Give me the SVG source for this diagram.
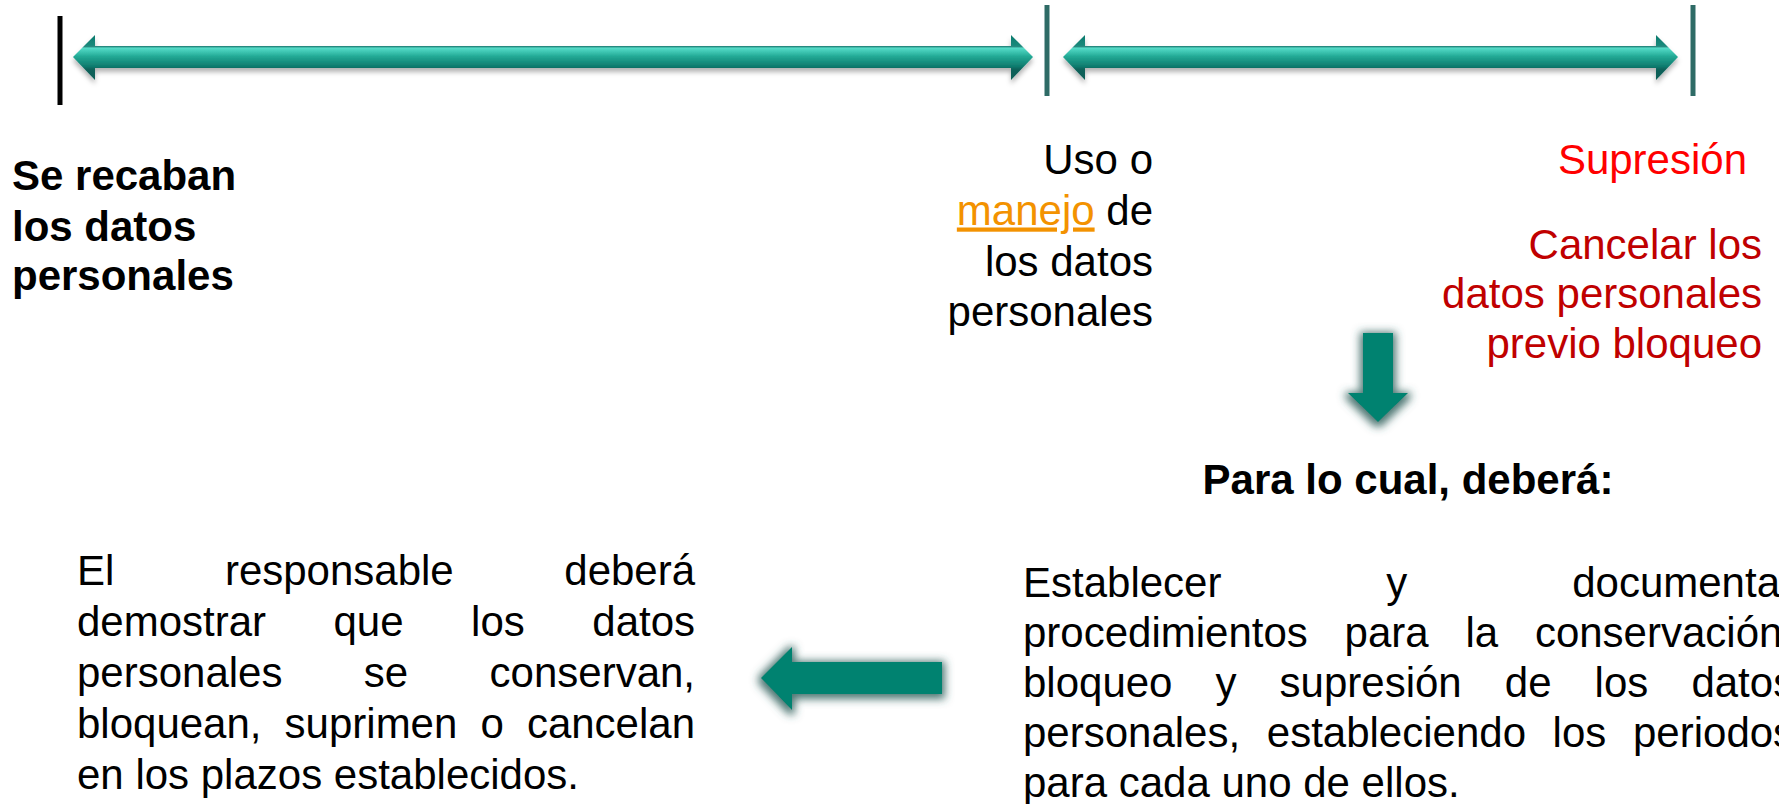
<svg xmlns="http://www.w3.org/2000/svg" width="1779" height="804" viewBox="0 0 1779 804">
<style>
  text { font-family: "Liberation Sans", Arial, sans-serif; font-size: 42px; fill: #000; }
  .b { font-weight: bold; }
  .red { fill: #ff0000; }
  .dred { fill: #c00000; }
  .orange { fill: #f39200; text-decoration: underline; }
  .tick { stroke: #2e6b66; stroke-width: 5; }
  .tarrow { fill: url(#bevel); filter: url(#shadow); }
  .block { fill: #00826f; filter: url(#glow); }
</style>
<defs>
  <linearGradient id="bevel" x1="0" y1="0" x2="0" y2="1">
    <stop offset="0" stop-color="#0e7a6d"/>
    <stop offset="0.22" stop-color="#14887a"/>
    <stop offset="0.26" stop-color="#2a8a80"/>
    <stop offset="0.29" stop-color="#55dbc8"/>
    <stop offset="0.38" stop-color="#3cc4b0"/>
    <stop offset="0.48" stop-color="#22a894"/>
    <stop offset="0.6" stop-color="#178f7f"/>
    <stop offset="0.7" stop-color="#0f7a6d"/>
    <stop offset="0.76" stop-color="#0b625a"/>
    <stop offset="1" stop-color="#0b5e56"/>
  </linearGradient>
  <filter id="shadow" x="-5%" y="-30%" width="110%" height="170%">
    <feGaussianBlur in="SourceAlpha" stdDeviation="2.5"/>
    <feOffset dx="0" dy="4" result="b"/>
    <feFlood flood-color="#000" flood-opacity="0.3"/>
    <feComposite in2="b" operator="in"/>
    <feMerge><feMergeNode/><feMergeNode in="SourceGraphic"/></feMerge>
  </filter>
  <filter id="glow" x="-40%" y="-40%" width="180%" height="180%">
    <feMorphology in="SourceAlpha" operator="dilate" radius="3"/>
    <feGaussianBlur stdDeviation="4.5"/>
    <feOffset dx="0" dy="2" result="b"/>
    <feFlood flood-color="#2f5f5b" flood-opacity="0.85"/>
    <feComposite in2="b" operator="in"/>
    <feMerge><feMergeNode/><feMergeNode in="SourceGraphic"/></feMerge>
  </filter>
</defs>

<g id="connectors">
  <line x1="60" y1="16" x2="60" y2="105" stroke="#000" stroke-width="5"/>
  <line class="tick" x1="1047" y1="5" x2="1047" y2="96"/>
  <line class="tick" x1="1693" y1="5" x2="1693" y2="96"/>
  <polygon class="tarrow" points="73,57 95,35 95,46 1011,46 1011,35 1033,57 1011,80 1011,68 95,68 95,80"/>
  <polygon class="tarrow" points="1063,57 1085,35 1085,46 1656,46 1656,35 1678,57 1656,80 1656,68 1085,68 1085,80"/>
  <polygon class="block" points="1363,333 1393,333 1393,393 1408,393 1378,422 1348,393 1363,393"/>
  <polygon class="block" points="942,662 942,694 792,694 792,710 761,678 792,647 792,662"/>
</g>

<g id="node-recaban">
  <text class="b"><tspan x="12" y="190">Se recaban</tspan><tspan x="12" y="241">los datos</tspan><tspan x="12" y="290">personales</tspan></text>
</g>

<g id="node-uso">
  <text text-anchor="end"><tspan x="1153" y="174">Uso o</tspan><tspan x="1153" y="224.5"><tspan class="orange">manejo</tspan> de</tspan><tspan x="1153" y="275.5">los datos</tspan><tspan x="1153" y="326">personales</tspan></text>
</g>

<g id="node-supresion">
  <text class="red" x="1747" y="174" text-anchor="end">Supresión</text>
  <text class="dred" text-anchor="end"><tspan x="1762" y="259">Cancelar los</tspan><tspan x="1762" y="308">datos personales</tspan><tspan x="1762" y="358">previo bloqueo</tspan></text>
</g>

<g id="node-heading">
  <text class="b" x="1408" y="494" text-anchor="middle">Para lo cual, deberá:</text>
</g>

<g id="node-establecer">
  <text>
    <tspan x="1023" y="597">Establecer</tspan><tspan x="1386.3" y="597">y</tspan><tspan x="1572.2" y="597">documentar</tspan>
    <tspan x="1023" y="647">procedimientos</tspan><tspan x="1344.6" y="647">para</tspan><tspan x="1465.4" y="647">la</tspan><tspan x="1534.9" y="647">conservación,</tspan>
    <tspan x="1023" y="697">bloqueo</tspan><tspan x="1215.5" y="697">y</tspan><tspan x="1279.6" y="697">supresión</tspan><tspan x="1504.8" y="697">de</tspan><tspan x="1594.6" y="697">los</tspan><tspan x="1691.4" y="697">datos</tspan>
    <tspan x="1023" y="747">personales,</tspan><tspan x="1266.8" y="747">estableciendo</tspan><tspan x="1552.6" y="747">los</tspan><tspan x="1633" y="747">periodos</tspan>
    <tspan x="1023" y="797">para cada uno de ellos.</tspan>
  </text>
</g>

<g id="node-responsable">
  <text>
    <tspan x="77" y="585">El</tspan><tspan x="224.9" y="585">responsable</tspan><tspan x="564.3" y="585">deberá</tspan>
    <tspan x="77" y="636">demostrar</tspan><tspan x="333.5" y="636">que</tspan><tspan x="471.1" y="636">los</tspan><tspan x="592.3" y="636">datos</tspan>
    <tspan x="77" y="687">personales</tspan><tspan x="363.8" y="687">se</tspan><tspan x="489.6" y="687">conservan,</tspan>
    <tspan x="77" y="738">bloquean,</tspan><tspan x="284.6" y="738">suprimen</tspan><tspan x="480.4" y="738">o</tspan><tspan x="526.9" y="738">cancelan</tspan>
    <tspan x="77" y="789">en los plazos establecidos.</tspan>
  </text>
</g>
</svg>
